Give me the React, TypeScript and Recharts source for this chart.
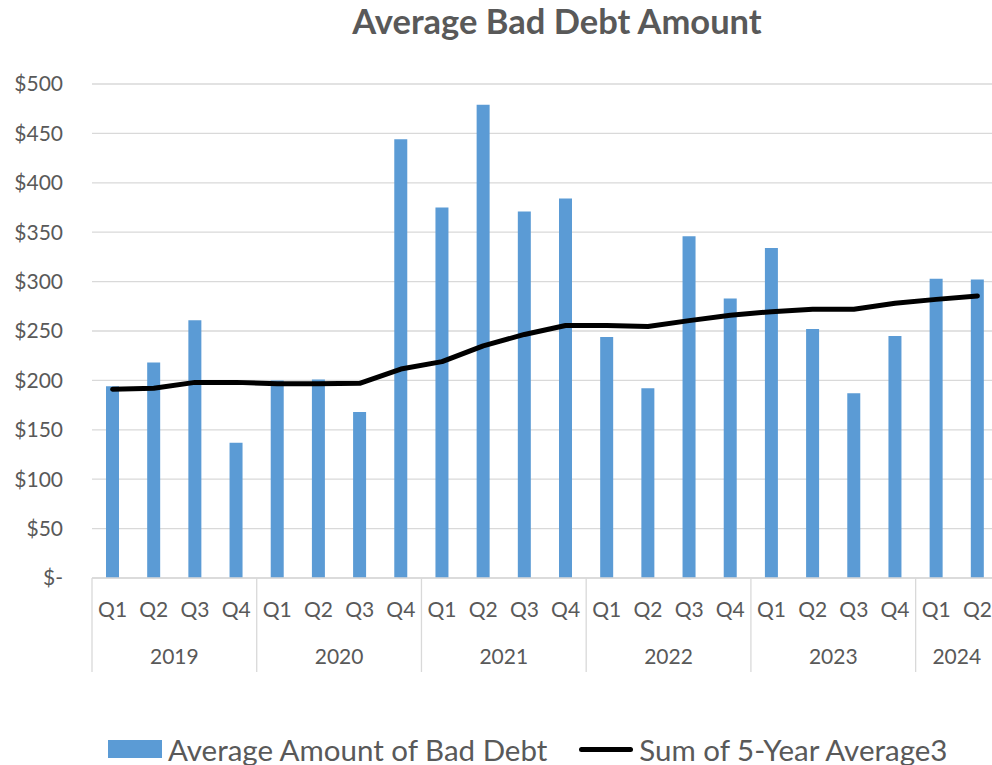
import { ComposedChart, Bar, Line, XAxis, YAxis, CartesianGrid, Legend } from "recharts";

// ── Data ──────────────────────────────────────────────────────────────────────

const quarters = [
  "Q1", "Q2", "Q3", "Q4", "Q1", "Q2", "Q3", "Q4", "Q1", "Q2", "Q3",
  "Q4", "Q1", "Q2", "Q3", "Q4", "Q1", "Q2", "Q3", "Q4", "Q1", "Q2",
];
const years = [
  "2019", "2019", "2019", "2019", "2020", "2020", "2020", "2020", "2021", "2021", "2021",
  "2021", "2022", "2022", "2022", "2022", "2023", "2023", "2023", "2023", "2024", "2024",
];
const avgBadDebt = [
  194, 218, 261, 137, 200, 201, 168, 444, 375, 479, 371,
  384, 244, 192, 346, 283, 334, 252, 187, 245, 303, 302,
];
const fiveYearAvg = [
  191, 192, 198, 198, 196.5, 196.5, 197, 211.5, 219, 235, 246.5,
  255.5, 255.5, 254.5, 260.5, 266, 269.5, 272, 272, 278, 282, 285.5,
];
const yTicks = [0, 50, 100, 150, 200, 250, 300, 350, 400, 450, 500];

const data = quarters.map((q, i) => ({
  q,
  year: years[i],
  avg: avgBadDebt[i],
  sum5: fiveYearAvg[i],
}));

// ── Layout ────────────────────────────────────────────────────────────────────

const W = 1000;
const H = 765;
const Y_W = 92;
const M_RIGHT = 2;
const BAND = (W - Y_W - M_RIGHT) / data.length;
const FONT = "Lato, 'Open Sans', sans-serif";
const TEXT = "#595959";
const GRID = "#d9d9d9";

const fmtDollar = (v: number) => (v === 0 ? "$-" : `$${v}`);

// two-level category axis: quarter on top, year centred below its group
function QuarterYearTick(props: any) {
  const { x, y, index } = props;
  const year = years[index];
  const first = index === 0 || years[index - 1] !== year;
  let size = 0;
  if (first) {
    for (let j = index; j < years.length && years[j] === year; j++) size++;
  }
  return (
    <g>
      <text x={x} y={y + 39} textAnchor="middle" fill={TEXT} fontSize={21} fontFamily={FONT}>
        {quarters[index]}
      </text>
      {first && (
        <>
          <line x1={x - BAND / 2} x2={x - BAND / 2} y1={y} y2={y + 94} stroke={GRID} strokeWidth={1.3} />
          <text
            x={x + ((size - 1) * BAND) / 2}
            y={y + 86}
            textAnchor="middle"
            fill={TEXT}
            fontSize={21}
            fontFamily={FONT}
          >
            {year}
          </text>
        </>
      )}
    </g>
  );
}

function LegendContent() {
  return (
    <div
      style={{
        height: 87,
        paddingTop: 55,
        boxSizing: "border-box",
        display: "flex",
        alignItems: "center",
        fontFamily: FONT,
        fontSize: 29.5,
        color: TEXT,
        paddingLeft: 108,
      }}
    >
      <span style={{ display: "inline-block", width: 54, height: 18, background: "#5b9bd5", marginRight: 6 }} />
      <span>Average Amount of Bad Debt</span>
      <span style={{ display: "inline-block", width: 54, height: 5, background: "#000", borderRadius: 3, marginLeft: 32, marginRight: 6 }} />
      <span>Sum of 5-Year Average3</span>
    </div>
  );
}

export default function App() {
  return (
    <div style={{ position: "absolute", left: 0, top: 0, width: 992, height: 765, overflow: "hidden", background: "#fff" }}>
      <div
        style={{
          position: "absolute",
          left: 557,
          top: 0,
          transform: "translateX(-50%)",
          whiteSpace: "nowrap",
          fontFamily: FONT,
          fontWeight: 700,
          fontSize: 34.5,
          color: TEXT,
        }}
      >
        Average Bad Debt Amount
      </div>
      <ComposedChart width={W} height={H} data={data} margin={{ top: 84, right: M_RIGHT, left: 0, bottom: 0 }}>
        <CartesianGrid vertical={false} stroke={GRID} strokeWidth={1.3} />
        <XAxis
          dataKey="q"
          interval={0}
          height={100}
          tickLine={false}
          tickSize={0}
          tickMargin={0}
          axisLine={{ stroke: GRID, strokeWidth: 1.3 }}
          tick={<QuarterYearTick />}
        />
        <YAxis
          width={Y_W}
          domain={[0, 500]}
          ticks={yTicks}
          tickFormatter={fmtDollar}
          tickLine={false}
          axisLine={false}
          tickSize={0}
          tickMargin={29}
          tick={{ fill: TEXT, fontSize: 21, fontFamily: FONT }}
        />
        <Legend verticalAlign="bottom" content={<LegendContent />} />
        <Bar dataKey="avg" name="Average Amount of Bad Debt" fill="#5b9bd5" barSize={13} isAnimationActive={false} />
        <Line
          dataKey="sum5"
          name="Sum of 5-Year Average3"
          type="linear"
          stroke="#000"
          strokeWidth={5}
          strokeLinecap="round"
          strokeLinejoin="round"
          dot={false}
          activeDot={false}
          isAnimationActive={false}
        />
      </ComposedChart>
    </div>
  );
}
